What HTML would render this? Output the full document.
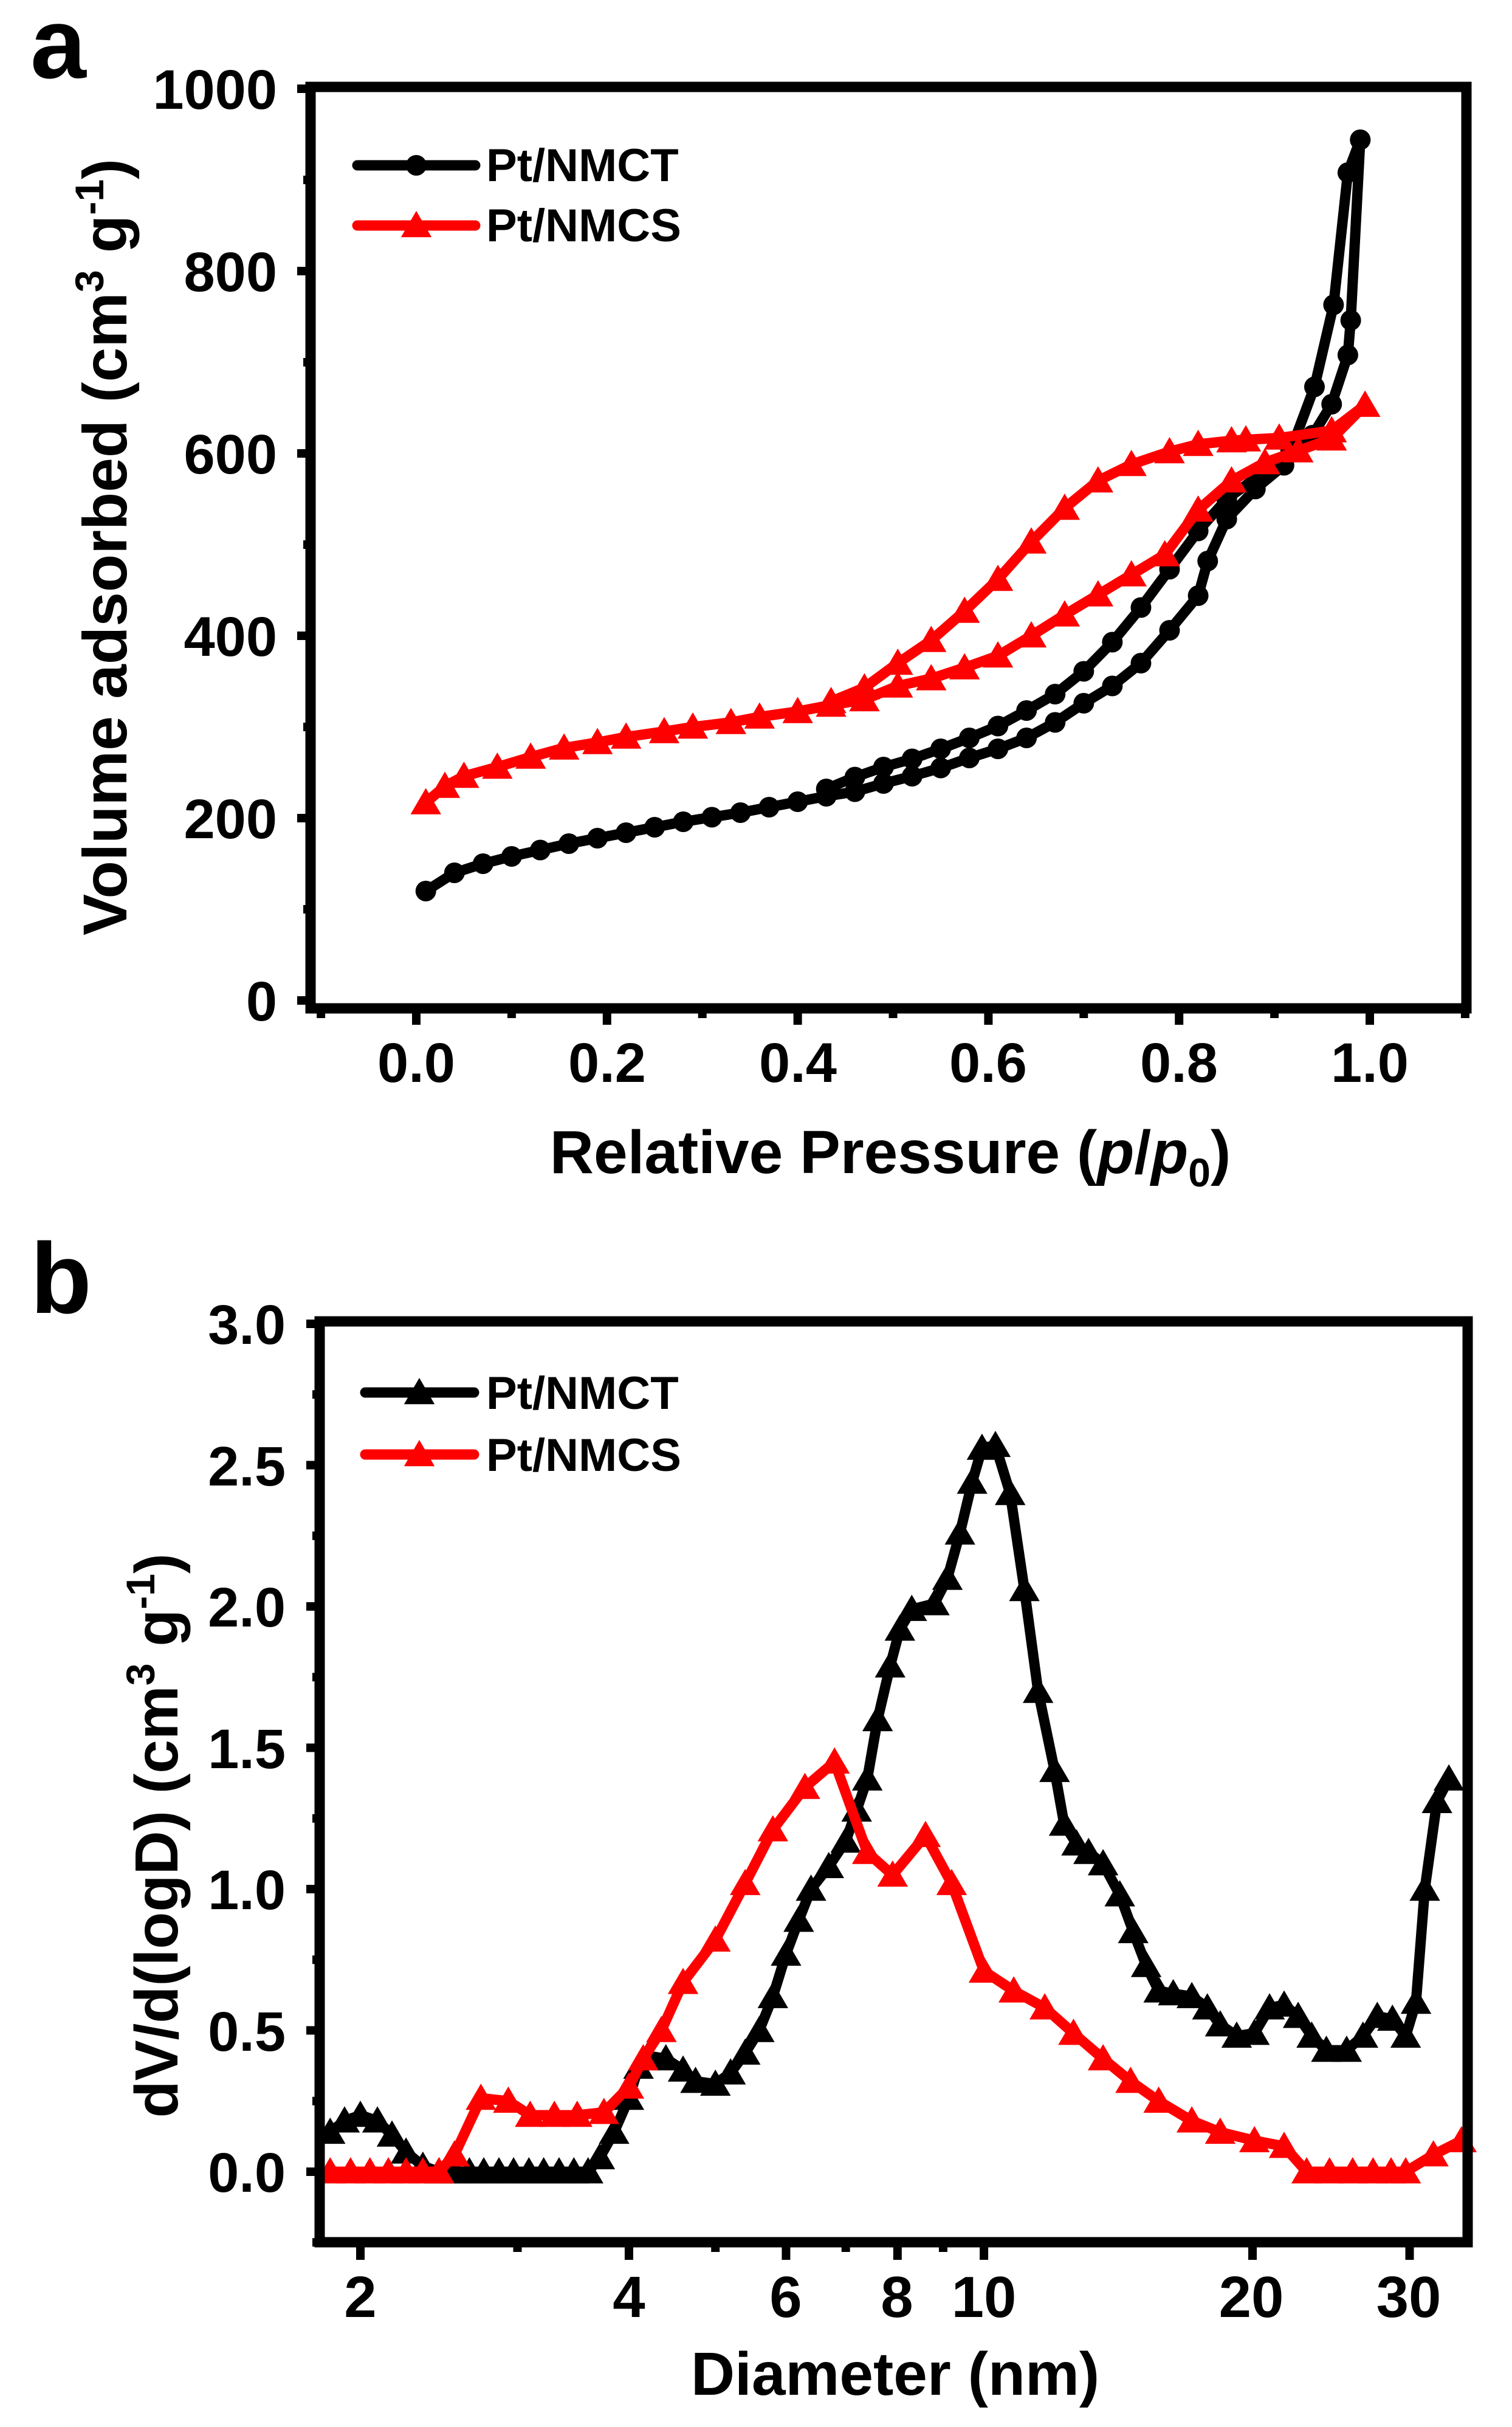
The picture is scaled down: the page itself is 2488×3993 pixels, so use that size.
<!DOCTYPE html>
<html><head><meta charset="utf-8"><style>
html,body{margin:0;padding:0;background:#fff}
svg{display:block}
text{font-family:"Liberation Sans",Arial,sans-serif;font-weight:bold;fill:#000}
</style></head><body>
<svg id="s" width="2488" height="3993" viewBox="0 0 2488 3993" xmlns="http://www.w3.org/2000/svg">
<rect width="2488" height="3993" fill="#fff"/>
<!-- Panel a -->
<text x="50" y="128" font-size="165">a</text>
<g id="A"></g>
<rect x="511" y="143" width="1902" height="1516" fill="none" stroke="#000" stroke-width="17"/>
<g font-size="92" text-anchor="end">
<text x="456" y="179">1000</text><text x="456" y="479">800</text><text x="456" y="779">600</text>
<text x="456" y="1079">400</text><text x="456" y="1379">200</text><text x="456" y="1679">0</text>
</g>
<g font-size="92" text-anchor="middle">
<text x="685" y="1780">0.0</text><text x="999" y="1780">0.2</text><text x="1313" y="1780">0.4</text>
<text x="1626" y="1780">0.6</text><text x="1940" y="1780">0.8</text><text x="2254" y="1780">1.0</text>
</g>
<text x="1465" y="1930" font-size="100" text-anchor="middle">Relative Pressure (<tspan font-style="italic">p</tspan>/<tspan font-style="italic">p</tspan><tspan font-size="66" dy="22">0</tspan><tspan dy="-22">)</tspan></text>
<text transform="translate(208,900) rotate(-90)" font-size="102" text-anchor="middle">Volume adsorbed (cm<tspan font-size="66" dy="-38">3</tspan><tspan dy="38"> g</tspan><tspan font-size="66" dy="-38">-1</tspan><tspan dy="38">)</tspan></text>
<g font-size="76"><text x="800" y="298">Pt/NMCT</text><text x="800" y="397">Pt/NMCS</text></g>

<!-- Panel b -->
<text x="50" y="2160" font-size="165">b</text>
<g id="B"></g>
<rect x="526" y="2174" width="1889" height="1515" fill="none" stroke="#000" stroke-width="17"/>
<g font-size="92" text-anchor="end">
<text x="470" y="2211">3.0</text><text x="470" y="2444">2.5</text><text x="470" y="2676">2.0</text>
<text x="470" y="2909">1.5</text><text x="470" y="3141">1.0</text><text x="470" y="3374">0.5</text>
<text x="470" y="3606">0.0</text>
</g>
<g font-size="96" text-anchor="middle">
<text x="593" y="3812">2</text><text x="1035" y="3812">4</text><text x="1293" y="3812">6</text>
<text x="1476" y="3812">8</text><text x="1619" y="3812">10</text><text x="2059" y="3812">20</text><text x="2318" y="3812">30</text>
</g>
<text x="1473" y="3940" font-size="100" text-anchor="middle">Diameter (nm)</text>
<text transform="translate(292,3020) rotate(-90)" font-size="100" text-anchor="middle">dV/d(logD) (cm<tspan font-size="66" dy="-38">3</tspan><tspan dy="38"> g</tspan><tspan font-size="66" dy="-38">-1</tspan><tspan dy="38">)</tspan></text>
<g font-size="76"><text x="800" y="2318">Pt/NMCT</text><text x="800" y="2420">Pt/NMCS</text></g>
</svg>
<script>
var NS="http://www.w3.org/2000/svg";
function el(p,t,a){var e=document.createElementNS(NS,t);for(var k in a)e.setAttribute(k,a[k]);p.appendChild(e);return e;}
function line(g,pts,c){el(g,"polyline",{points:pts.map(function(p){return p[0].toFixed(1)+","+p[1].toFixed(1)}).join(" "),fill:"none",stroke:c,"stroke-width":17,"stroke-linejoin":"round","stroke-linecap":"round"});}
function tri(g,x,y,c,s){s=s||24;el(g,"polygon",{points:(x)+","+(y-s)+" "+(x-s*1.05)+","+(y+s*0.8)+" "+(x+s*1.05)+","+(y+s*0.8),fill:c});}
function circ(g,x,y,c){el(g,"circle",{cx:x,cy:y,r:17,fill:c});}
var A=document.getElementById("A"),B=document.getElementById("B");
var i;
for(i=0;i<=10;i++){var v=i*100,y=1646-1.5*v;el(A,"line",{x1:511,x2:(i%2?499:489),y1:y,y2:y,stroke:"#000","stroke-width":14});}
for(i=-1;i<=11;i++){var x=685+1569*i/10;if(x<511||x>2413)continue;el(A,"line",{x1:x,x2:x,y1:1659,y2:(i%2?1675:1686),stroke:"#000","stroke-width":14});}
function ax(p){return 685+1569*p;} function ay(v){return 1646-1.5*v;}
function P(a){return a.map(function(d){return [ax(d[0]),ay(d[1])];});}
var ctA=[[0.01,120],[0.04,140],[0.07,150],[0.1,158],[0.13,165],[0.16,172],[0.19,178],[0.22,184],[0.25,190],[0.28,196],[0.31,201],[0.34,206],[0.37,212],[0.40,218],[0.43,224],[0.46,229],[0.49,238],[0.52,246],[0.55,255],[0.58,266],[0.61,276],[0.64,288],[0.67,305],[0.70,326],[0.73,345],[0.76,370],[0.79,406],[0.82,444],[0.83,482],[0.85,528],[0.88,561],[0.91,587],[0.94,620],[0.96,654],[0.977,708],[0.98,746],[0.99,944]];
var ctD=[[0.99,944],[0.977,908],[0.962,763],[0.942,673],[0.917,603],[0.887,578],[0.85,550],[0.82,515],[0.79,473],[0.76,431],[0.73,393],[0.70,361],[0.67,336],[0.64,318],[0.61,301],[0.58,288],[0.55,276],[0.52,265],[0.49,256],[0.46,245],[0.43,232]];
var csA=[[0.01,217],[0.03,235],[0.05,246],[0.085,256],[0.12,267],[0.155,277],[0.19,283],[0.22,289],[0.26,295],[0.29,300],[0.33,305],[0.36,311],[0.40,317],[0.435,324],[0.47,330],[0.505,345],[0.54,353],[0.575,365],[0.61,378],[0.645,400],[0.68,423],[0.715,445],[0.75,467],[0.785,489],[0.82,538],[0.855,570],[0.89,590],[0.925,603],[0.96,616],[0.995,653]];
var csD=[[0.995,653],[0.96,625],[0.905,617],[0.87,615],[0.855,614],[0.82,610],[0.79,602],[0.75,588],[0.715,570],[0.68,540],[0.645,503],[0.61,462],[0.575,427],[0.54,395],[0.505,370],[0.47,343],[0.435,328]];
[[ctA,"#000"],[ctD,"#000"]].forEach(function(s){var p=P(s[0]);line(A,p,s[1]);p.forEach(function(q){circ(A,q[0],q[1],s[1]);});});
[[csA,"#f00"],[csD,"#f00"]].forEach(function(s){var p=P(s[0]);line(A,p,s[1]);p.forEach(function(q){tri(A,q[0],q[1],s[1]);});});
line(A,[[588,272],[782,272]],"#000");circ(A,685,272,"#000");
line(A,[[588,371],[782,371]],"#f00");tri(A,685,371,"#f00");
for(i=-1;i<=12;i++){var v=i*0.25,y=3573-465*v;el(B,"line",{x1:526,x2:(i%2?514:504),y1:y,y2:y,stroke:"#000","stroke-width":14});}
function bx(D){return 593+1468*Math.log10(D/2);} function by(v){return 3573-465*v;}
[2,3,4,5,6,7,8,9,10,20,30].forEach(function(D){var x=bx(D);var maj=[2,4,6,8,10,20,30].indexOf(D)>=0;el(B,"line",{x1:x,x2:x,y1:3689,y2:maj?3718:3705,stroke:"#000","stroke-width":14});});
function Q(a){return a.map(function(d){return [bx(d[0]),by(d[1])];});}
var bk=[[1.85,0.14],[1.92,0.18],[2.0,0.2],[2.09,0.18],[2.17,0.13],[2.25,0.07],[2.35,0.02],[2.45,0],[2.55,0],[2.65,0],[2.75,0],[2.86,0],[2.97,0],[3.09,0],[3.21,0],[3.34,0],[3.47,0],[3.6,0],[3.71,0.05],[3.85,0.14],[4.0,0.26],[4.1,0.37],[4.2,0.41],[4.4,0.40],[4.6,0.36],[4.75,0.32],[5.0,0.31],[5.2,0.35],[5.4,0.42],[5.6,0.5],[5.8,0.62],[6.0,0.77],[6.2,0.89],[6.4,1.0],[6.7,1.08],[7.0,1.17],[7.2,1.28],[7.4,1.39],[7.6,1.6],[7.85,1.79],[8.05,1.92],[8.3,1.99],[8.8,2.01],[9.1,2.1],[9.4,2.26],[9.7,2.44],[9.95,2.56],[10.3,2.57],[10.7,2.4],[11.1,2.06],[11.5,1.7],[12.0,1.42],[12.3,1.23],[12.7,1.16],[13.1,1.13],[13.6,1.09],[14.2,0.98],[14.7,0.85],[15.2,0.73],[15.7,0.64],[16.3,0.63],[17.1,0.62],[17.8,0.58],[18.4,0.52],[19.2,0.48],[20.1,0.49],[20.9,0.58],[21.7,0.59],[22.5,0.55],[23.3,0.48],[24.2,0.43],[25.5,0.43],[26.6,0.48],[27.6,0.55],[28.7,0.54],[29.7,0.48],[30.5,0.6],[31.2,1.0],[32.2,1.31],[33.2,1.39]];
var rd=[[1.85,0],[1.95,0],[2.05,0],[2.15,0],[2.25,0],[2.35,0],[2.45,0],[2.55,0.06],[2.73,0.26],[2.93,0.25],[3.1,0.2],[3.3,0.2],[3.5,0.2],[3.75,0.21],[4.0,0.3],[4.15,0.4],[4.35,0.5],[4.6,0.67],[5.0,0.82],[5.4,1.02],[5.8,1.21],[6.3,1.36],[6.8,1.45],[7.4,1.13],[7.9,1.05],[8.6,1.19],[9.2,1.02],[10.0,0.71],[10.8,0.64],[11.7,0.58],[12.6,0.49],[13.6,0.4],[14.6,0.32],[15.7,0.25],[17.1,0.18],[18.4,0.14],[20.1,0.11],[21.7,0.09],[23.0,0],[24.4,0],[25.9,0],[27.3,0],[28.6,0],[29.7,0],[31.9,0.06],[34.3,0.11]];
var pb=Q(bk);line(B,pb,"#000");pb.forEach(function(q){tri(B,q[0],q[1],"#000");});
var pr=Q(rd);line(B,pr,"#f00");pr.forEach(function(q){tri(B,q[0],q[1],"#f00");});
line(B,[[601,2291],[780,2291]],"#000");tri(B,690,2291,"#000");
line(B,[[601,2393],[780,2393]],"#f00");tri(B,690,2393,"#f00");
</script>
</body></html>
